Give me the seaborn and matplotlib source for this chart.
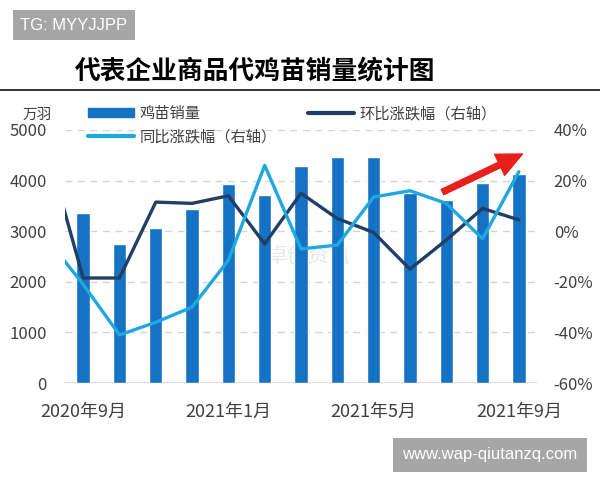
import matplotlib
matplotlib.use("Agg")
import matplotlib.pyplot as plt
from matplotlib.lines import Line2D
from matplotlib.patches import Patch
import numpy as np
import pandas as pd
import seaborn as sns

sns.set_theme(style="white")
plt.rcParams['font.family'] = ['Noto Sans CJK SC', 'DejaVu Sans']

# monthly data, 2020-09 .. 2021-09
months = ["2020年9月", "2020年10月", "2020年11月", "2020年12月", "2021年1月", "2021年2月",
          "2021年3月", "2021年4月", "2021年5月", "2021年6月", "2021年7月", "2021年8月", "2021年9月"]
sales = [3360, 2750, 3060, 3440, 3930, 3715, 4290, 4470, 4470, 3750, 3610, 3950, 4130]
# line series start one month earlier (2020-08), cut off at the left edge
mom = [33, -18.5, -18.5, 11.5, 11, 14, -5, 15, 5, -0.5, -15, -3.5, 9, 4.5]
yoy = [-3, -21, -41, -36, -30, -11.5, 26, -7, -5.5, 13.5, 16, 11, -3, 23.5]
tick_labels = ["2020年9月", "2021年1月", "2021年5月", "2021年9月"]

bar_color = "#1672c4"
mom_color = "#213f66"
yoy_color = "#1fa8e0"
text_color = "#404040"

fig = plt.figure(figsize=(6, 4.8), dpi=100)
ax = fig.add_axes([65 / 600, 1 - 383 / 480, 472 / 600, 253 / 480])

df = pd.DataFrame({"month": months, "sales": sales})
sns.barplot(data=df, x="month", y="sales", color=bar_color, width=0.37,
            saturation=1, ax=ax, zorder=2)
ax.text(6.2, 2500, "卓创资讯", color="#d8d8d8", fontsize=15, ha="center",
        va="center", zorder=1, alpha=0.6)

ax2 = ax.twinx()
xs = np.arange(-1, len(months))
sns.lineplot(x=xs, y=mom, color=mom_color, lw=2.4, ax=ax2)
sns.lineplot(x=xs, y=yoy, color=yoy_color, lw=2.4, ax=ax2)

ax.set_xlim(-0.5, len(months) - 0.5)
ax.set_ylim(0, 5000)
ax.set_yticks(range(0, 5001, 1000))
ax2.set_ylim(-60, 40)
ax2.set_yticks(range(-60, 41, 20))
ax2.set_yticklabels([f"{v}%" for v in range(-60, 41, 20)])

ax.set_xticks([months.index(t) for t in tick_labels])
ax.set_xticklabels(tick_labels)
ax.set_xlabel("")
ax.set_ylabel("")
ax2.set_ylabel("")

for a in (ax, ax2):
    for s in a.spines.values():
        s.set_visible(False)
ax.yaxis.grid(True, color="#d4d4d4", linestyle=(0, (5, 4)), lw=1)
ax.set_axisbelow(True)
ax.axhline(0, color="#d0d0d0", lw=1.2, zorder=1)

ax.tick_params(axis="y", length=0, pad=13, labelsize=12, labelcolor=text_color)
ax.tick_params(axis="x", length=0, pad=14, labelsize=13, labelcolor=text_color)
ax2.tick_params(axis="y", length=0, pad=12, labelsize=12, labelcolor=text_color)

ax2.annotate("", xy=(12.17, 31), xytext=(9.83, 15),
             arrowprops=dict(arrowstyle="simple,head_length=1.3,head_width=1.2,tail_width=0.3",
                             color="#e8201c", mutation_scale=14), annotation_clip=False)

handles = [Patch(color=bar_color), Line2D([], [], color=yoy_color, lw=3),
           Line2D([], [], color=mom_color, lw=3)]
labels = ["鸡苗销量", "同比涨跌幅（右轴）", "环比涨跌幅（右轴）"]
fig.legend(handles, labels, ncol=2, loc="upper left", bbox_to_anchor=(88 / 600, 1 - 105 / 480),
           frameon=False, fontsize=11, handlelength=3.0, handleheight=0.55,
           handletextpad=0.4, columnspacing=2.0, labelspacing=0.4, borderpad=0,
           borderaxespad=0, labelcolor=text_color)

fig.text(52 / 600, 1 - 115 / 480, "万羽", ha="right", va="center", fontsize=10.5, color=text_color)
fig.text(75 / 600, 1 - 72 / 480, "代表企业商品代鸡苗销量统计图", ha="left", va="center",
         fontsize=18.5, fontweight="bold", color="black")
fig.add_artist(Line2D([0, 1], [1 - 90 / 480, 1 - 90 / 480], color="#222222", lw=1.3,
                      transform=fig.transFigure))

fig.text(20 / 600, 1 - 25 / 480, "TG: MYYJJPP", ha="left", va="center", fontsize=12,
         color="white", family=["Liberation Sans", "DejaVu Sans"],
         bbox=dict(boxstyle="square,pad=0.45", fc="#a6a6a6", ec="none"))
fig.text(490 / 600, 1 - 455 / 480, "www.wap-qiutanzq.com", ha="center", va="center", fontsize=12,
         color="white", family=["Liberation Sans", "DejaVu Sans"],
         bbox=dict(boxstyle="square,pad=0.55", fc="#a6a6a6", ec="none"))

fig.savefig("out.png", dpi=100)
